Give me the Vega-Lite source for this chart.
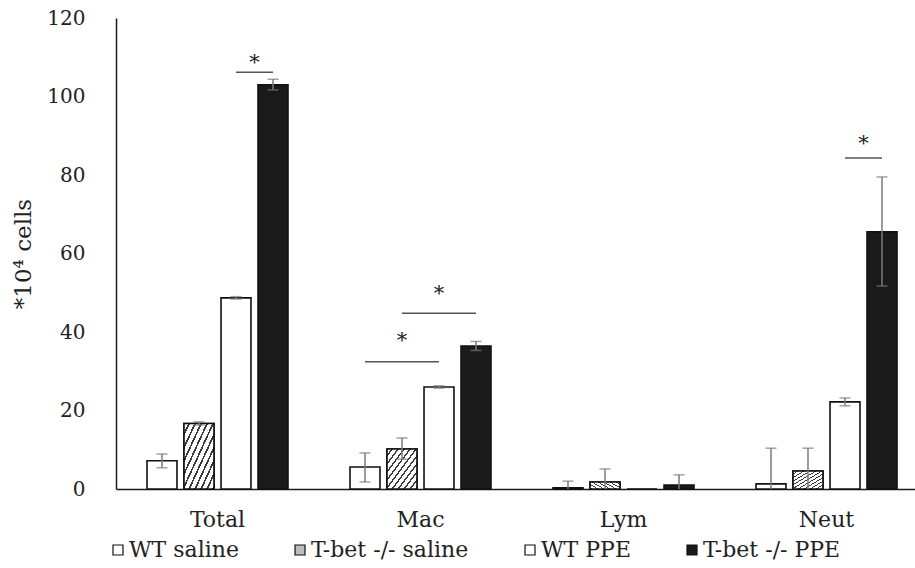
{
  "$schema": "https://vega.github.io/schema/vega-lite/v6.json",
  "width": 799,
  "height": 471,
  "autosize": {"type": "none"},
  "padding": {"left": 116, "top": 18, "right": 0, "bottom": 79},
  "background": "white",
  "config": {
    "font": "DejaVu Serif",
    "view": {"stroke": null},
    "axis": {"grid": false, "ticks": false, "domainColor": "#1a1a1a", "domainWidth": 1.5, "labelColor": "#222", "titleColor": "#222", "labelFont": "DejaVu Serif", "titleFont": "DejaVu Serif"},
    "legend": {"labelFont": "DejaVu Serif"},
    "text": {"font": "DejaVu Serif"}
  },
  "datasets": {
    "cells": [
      {"cat": "Total", "series": "WT saline", "mean": 7.2, "lo": 5.4, "hi": 8.9},
      {"cat": "Total", "series": "T-bet -/- saline", "mean": 16.7, "lo": 16.3, "hi": 17.1},
      {"cat": "Total", "series": "WT PPE", "mean": 48.7, "lo": 48.4, "hi": 49.0},
      {"cat": "Total", "series": "T-bet -/- PPE", "mean": 103.0, "lo": 101.7, "hi": 104.4},
      {"cat": "Mac", "series": "WT saline", "mean": 5.6, "lo": 1.8, "hi": 9.2},
      {"cat": "Mac", "series": "T-bet -/- saline", "mean": 10.2, "lo": 7.6, "hi": 13.0},
      {"cat": "Mac", "series": "WT PPE", "mean": 26.0, "lo": 25.7, "hi": 26.3},
      {"cat": "Mac", "series": "T-bet -/- PPE", "mean": 36.4, "lo": 35.3, "hi": 37.6},
      {"cat": "Lym", "series": "WT saline", "mean": 0.3, "lo": 0, "hi": 2.0},
      {"cat": "Lym", "series": "T-bet -/- saline", "mean": 1.8, "lo": 0, "hi": 5.1},
      {"cat": "Lym", "series": "WT PPE", "mean": 0, "lo": 0, "hi": 0},
      {"cat": "Lym", "series": "T-bet -/- PPE", "mean": 1.0, "lo": 0, "hi": 3.6},
      {"cat": "Neut", "series": "WT saline", "mean": 1.3, "lo": 0, "hi": 10.4},
      {"cat": "Neut", "series": "T-bet -/- saline", "mean": 4.6, "lo": 0, "hi": 10.4},
      {"cat": "Neut", "series": "WT PPE", "mean": 22.2, "lo": 21.2, "hi": 23.2},
      {"cat": "Neut", "series": "T-bet -/- PPE", "mean": 65.5, "lo": 51.7, "hi": 79.5}
    ],
    "sig": [
      {"cat": "Total", "from": "WT PPE", "to": "T-bet -/- PPE", "y": 106.2, "star": 108.6, "mark": "*"},
      {"cat": "Mac", "from": "WT saline", "to": "WT PPE", "y": 32.4, "star": 37.6, "mark": "*"},
      {"cat": "Mac", "from": "T-bet -/- saline", "to": "T-bet -/- PPE", "y": 44.8, "star": 49.8, "mark": "*"},
      {"cat": "Neut", "from": "WT PPE", "to": "T-bet -/- PPE", "y": 84.3, "star": 87.8, "mark": "*"}
    ]
  },
  "encoding": {
    "x": {
      "field": "cat", "type": "nominal",
      "scale": {"domain": ["Total", "Mac", "Lym", "Neut"], "range": [0, 812], "paddingInner": 0, "paddingOuter": 0},
      "axis": {"title": null, "labelAngle": 0, "labelFontSize": 22, "labelPadding": 20, "domain": true}
    }
  },
  "layer": [
    {
      "data": {"name": "cells"},
      "mark": {"type": "bar", "stroke": "#111", "strokeWidth": 1.6},
      "encoding": {
        "xOffset": {"field": "series", "type": "nominal", "scale": {"domain": ["WT saline", "T-bet -/- saline", "WT PPE", "T-bet -/- PPE"], "paddingInner": 0.19, "paddingOuter": 0.838}},
        "y": {
          "field": "mean", "type": "quantitative",
          "scale": {"domain": [0, 120], "nice": false},
          "axis": {"values": [0, 20, 40, 60, 80, 100, 120], "labelFontSize": 20, "labelPadding": 31, "title": "*10⁴ cells", "titleFont": "DejaVu Serif", "titleFontSize": 23, "titleFontWeight": "normal", "titlePadding": 11}
        },
        "fill": {
          "field": "series", "type": "nominal",
          "scale": {"domain": ["WT saline", "T-bet -/- saline", "WT PPE", "T-bet -/- PPE"], "range": ["#ffffff", "#bdbdbd", "#ffffff", "#1a1a1a"]},
          "legend": {
            "orient": "none", "legendX": -9, "legendY": 521, "direction": "horizontal", "title": null,
            "symbolType": "square", "symbolSize": 100, "symbolStrokeColor": "#111", "symbolStrokeWidth": 1.2,
            "labelFont": "DejaVu Serif", "labelFontSize": 22, "labelColor": "#222", "labelOffset": 0, "labelLimit": 0, "columnPadding": 50, "padding": 0
          }
        }
      }
    },
    {
      "data": {"name": "cells"},
      "transform": [{"filter": "datum.series === 'T-bet -/- saline'"}],
      "mark": {
        "type": "bar", "stroke": "#111", "strokeWidth": 1.6,
        "fill": {
          "gradient": "linear", "x1": 0, "y1": 0, "x2": 1, "y2": 1,
          "stops": [
            {"offset": 0.0, "color": "#ffffff"}, {"offset": 0.07, "color": "#ffffff"}, {"offset": 0.07, "color": "#3a3a3a"}, {"offset": 0.1, "color": "#3a3a3a"},
            {"offset": 0.1, "color": "#ffffff"}, {"offset": 0.17, "color": "#ffffff"}, {"offset": 0.17, "color": "#3a3a3a"}, {"offset": 0.2, "color": "#3a3a3a"},
            {"offset": 0.2, "color": "#ffffff"}, {"offset": 0.27, "color": "#ffffff"}, {"offset": 0.27, "color": "#3a3a3a"}, {"offset": 0.3, "color": "#3a3a3a"},
            {"offset": 0.3, "color": "#ffffff"}, {"offset": 0.37, "color": "#ffffff"}, {"offset": 0.37, "color": "#3a3a3a"}, {"offset": 0.4, "color": "#3a3a3a"},
            {"offset": 0.4, "color": "#ffffff"}, {"offset": 0.47, "color": "#ffffff"}, {"offset": 0.47, "color": "#3a3a3a"}, {"offset": 0.5, "color": "#3a3a3a"},
            {"offset": 0.5, "color": "#ffffff"}, {"offset": 0.57, "color": "#ffffff"}, {"offset": 0.57, "color": "#3a3a3a"}, {"offset": 0.6, "color": "#3a3a3a"},
            {"offset": 0.6, "color": "#ffffff"}, {"offset": 0.67, "color": "#ffffff"}, {"offset": 0.67, "color": "#3a3a3a"}, {"offset": 0.7, "color": "#3a3a3a"},
            {"offset": 0.7, "color": "#ffffff"}, {"offset": 0.77, "color": "#ffffff"}, {"offset": 0.77, "color": "#3a3a3a"}, {"offset": 0.8, "color": "#3a3a3a"},
            {"offset": 0.8, "color": "#ffffff"}, {"offset": 0.87, "color": "#ffffff"}, {"offset": 0.87, "color": "#3a3a3a"}, {"offset": 0.9, "color": "#3a3a3a"},
            {"offset": 0.9, "color": "#ffffff"}, {"offset": 0.97, "color": "#ffffff"}, {"offset": 0.97, "color": "#3a3a3a"}, {"offset": 1.0, "color": "#3a3a3a"}
          ]
        }
      },
      "encoding": {
        "xOffset": {"field": "series", "type": "nominal"},
        "y": {"field": "mean", "type": "quantitative"}
      }
    },
    {
      "data": {"name": "cells"},
      "transform": [{"filter": "datum.hi > datum.lo"}],
      "mark": {"type": "rule", "color": "#7a7a7a", "strokeWidth": 1.5},
      "encoding": {
        "xOffset": {"field": "series", "type": "nominal"},
        "y": {"field": "lo", "type": "quantitative"},
        "y2": {"field": "hi"}
      }
    },
    {
      "data": {"name": "cells"},
      "transform": [{"filter": "datum.hi > datum.mean"}],
      "mark": {"type": "tick", "color": "#7a7a7a", "size": 11, "thickness": 1.5},
      "encoding": {
        "xOffset": {"field": "series", "type": "nominal"},
        "y": {"field": "hi", "type": "quantitative"}
      }
    },
    {
      "data": {"name": "cells"},
      "transform": [{"filter": "datum.lo > 0 && datum.lo < datum.mean"}],
      "mark": {"type": "tick", "color": "#7a7a7a", "size": 11, "thickness": 1.5},
      "encoding": {
        "xOffset": {"field": "series", "type": "nominal"},
        "y": {"field": "lo", "type": "quantitative"}
      }
    },
    {
      "data": {"name": "sig"},
      "transform": [{"fold": ["from", "to"], "as": ["end", "series"]}],
      "mark": {"type": "line", "color": "#555", "strokeWidth": 1.5},
      "encoding": {
        "xOffset": {"field": "series", "type": "nominal"},
        "y": {"field": "y", "type": "quantitative"},
        "detail": [{"field": "cat"}, {"field": "y"}]
      }
    },
    {
      "data": {"name": "sig"},
      "transform": [{"filter": "datum.cat !== 'Mac'"}],
      "mark": {"type": "text", "fontSize": 21, "color": "#222", "dx": -18.5, "baseline": "middle"},
      "encoding": {
        "xOffset": {"field": "to", "type": "nominal"},
        "y": {"field": "star", "type": "quantitative"},
        "text": {"field": "mark"}
      }
    },
    {
      "data": {"name": "sig"},
      "transform": [{"filter": "datum.cat === 'Mac'"}],
      "mark": {"type": "text", "fontSize": 21, "color": "#222", "dx": -37, "baseline": "middle"},
      "encoding": {
        "xOffset": {"field": "to", "type": "nominal"},
        "y": {"field": "star", "type": "quantitative"},
        "text": {"field": "mark"}
      }
    }
  ]
}
